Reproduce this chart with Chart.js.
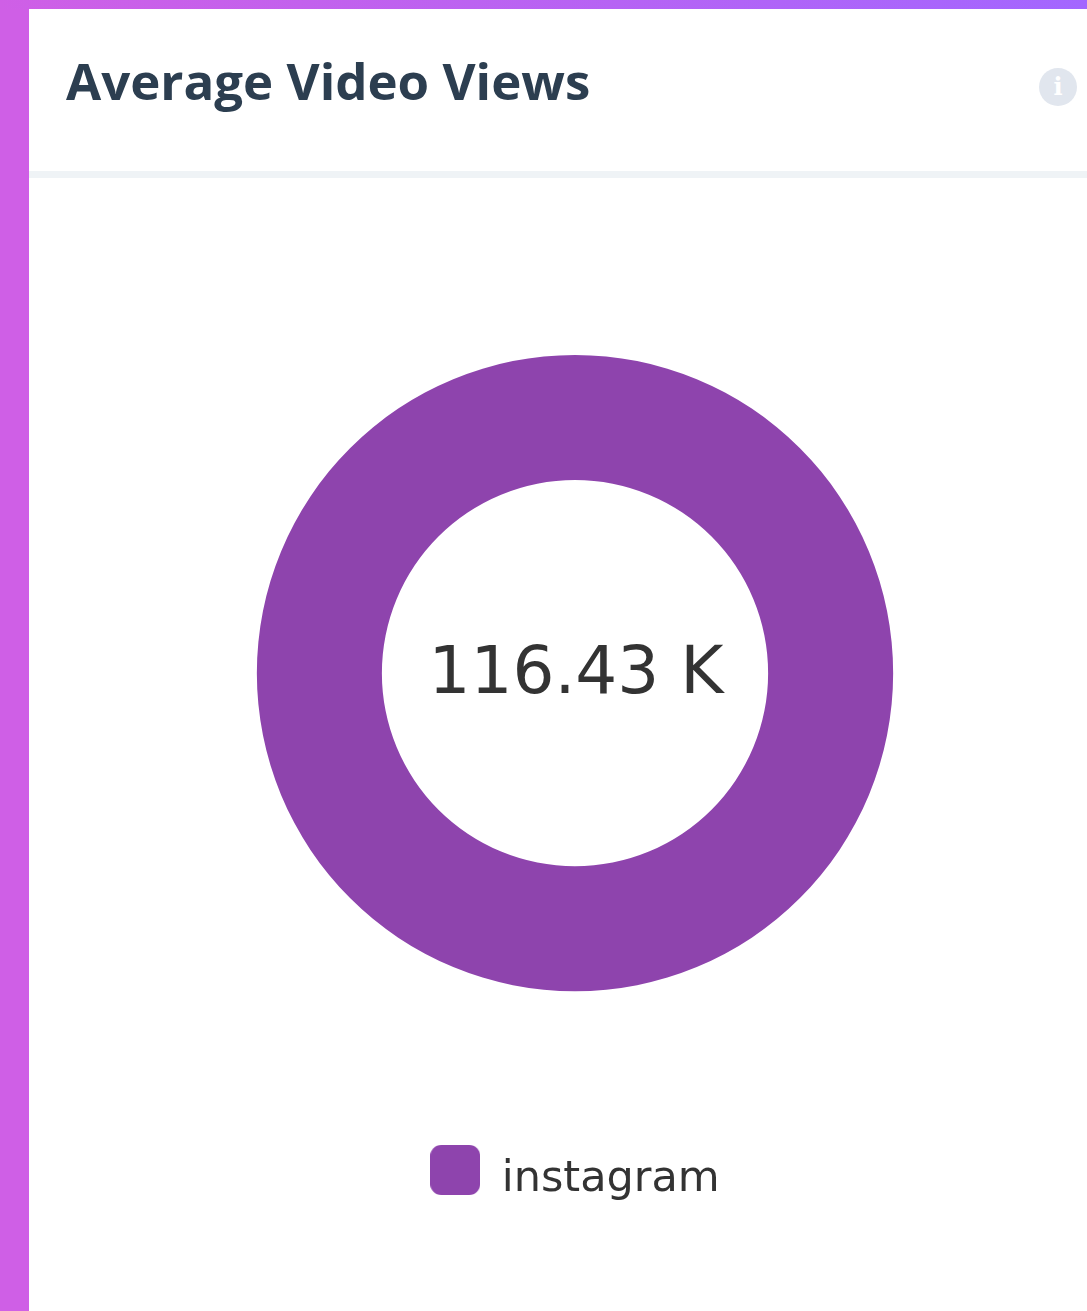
<!DOCTYPE html>
<html>
<head>
<meta charset="utf-8">
<script src="https://cdn.jsdelivr.net/npm/chart.js@4"></script>
<style>
html,body{margin:0;padding:0;background:#fff;width:1087px;height:1311px;overflow:hidden}
#top{position:absolute;left:0;top:0;width:1087px;height:9px;background:linear-gradient(90deg,#cf5fe6,#a366ff)}
#left{position:absolute;left:0;top:9px;width:29px;height:1302px;background:#cf5fe6}
#title{position:absolute;left:66px;top:47px;font:700 51px/66px "Open Sans",sans-serif;color:#2c3e50;white-space:nowrap}
#rule{position:absolute;left:29px;top:171px;width:1058px;height:7px;background:#eff3f6}
#info{position:absolute;left:1039px;top:68px;width:38px;height:38px;border-radius:50%;background:#e1e6ee;color:#fff;font:700 24px/38px "DejaVu Serif",serif;text-align:center}
#wrap{position:absolute;left:63px;top:178px;width:1024px;height:1133px}
</style>
</head>
<body>
<div id="top"></div><div id="left"></div>
<div id="title">Average Video Views</div>
<div id="info">i</div>
<div id="rule"></div>
<div id="wrap"><canvas id="c" width="1024" height="1133"></canvas></div>
<script>
const categories = ["instagram"];
const seriesValues = [116430];
const sliceColors = ["#8e44ad"];
const centerLabel = "116.43 K";

// Legend swatch: rounded square sitting above the text's middle line, as in the reference.
const swatch = document.createElement("canvas");
swatch.width = 50; swatch.height = 70;
const sctx = swatch.getContext("2d");
sctx.fillStyle = sliceColors[0];
sctx.beginPath();
sctx.roundRect(0, 0, 50, 50, 11);
sctx.fill();

const centerText = {
  id: "centerText",
  afterDraw(chart) {
    const meta = chart.getDatasetMeta(0).data[0];
    const ctx = chart.ctx;
    ctx.save();
    ctx.font = '66px "DejaVu Sans"';
    ctx.fillStyle = "#333333";
    ctx.textAlign = "center";
    ctx.textBaseline = "middle";
    ctx.fillText(centerLabel, meta.x + 1, meta.y + 3);
    ctx.restore();
  }
};

new Chart(document.getElementById("c"), {
  type: "doughnut",
  data: {
    labels: categories,
    datasets: [{ data: seriesValues, backgroundColor: sliceColors, borderWidth: 0 }]
  },
  options: {
    responsive: false,
    animation: false,
    cutout: "60.7%",
    layout: { padding: { top: 177, bottom: 99.5, left: 0, right: 0 } },
    plugins: {
      tooltip: { enabled: false },
      legend: {
        position: "bottom",
        title: { display: true, text: "", font: { size: 1 }, padding: { top: 161, bottom: 0 } },
        labels: {
          usePointStyle: true, pointStyle: swatch, pointStyleWidth: 50,
          padding: 5, color: "#333333",
          font: { family: "DejaVu Sans", size: 43 }
        }
      }
    }
  },
  plugins: [centerText]
});
</script>
</body>
</html>
